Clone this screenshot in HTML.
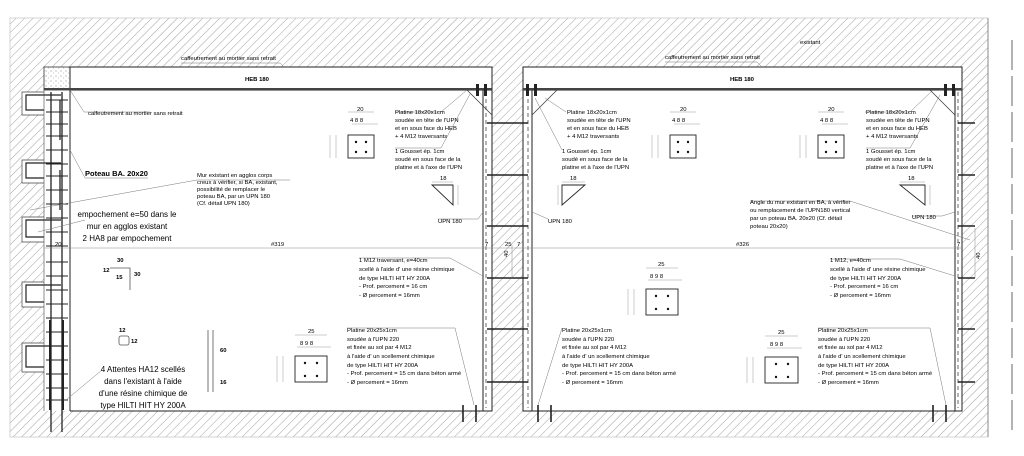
<!DOCTYPE html>
<html><head><meta charset="utf-8"><style>
html,body{margin:0;padding:0;background:#fff;}
svg{display:block;}
text{font-family:"Liberation Sans",sans-serif;fill:#000;}
.s{font-size:5.9px;}
.m{font-size:8px;}
.b{font-weight:bold;}
</style></head><body>
<svg width="1024" height="456" viewBox="0 0 1024 456" xmlns="http://www.w3.org/2000/svg">
<defs>
<pattern id="h" width="6" height="6" patternUnits="userSpaceOnUse" patternTransform="rotate(45)">
<line x1="0" y1="0" x2="0" y2="6" stroke="#8a8a8a" stroke-width="0.8"/>
</pattern>
<pattern id="c" width="5" height="5" patternUnits="userSpaceOnUse">
<circle cx="1" cy="1" r="0.5" fill="#666"/><circle cx="3.5" cy="3" r="0.4" fill="#777"/>
</pattern>
</defs>
<rect width="1024" height="456" fill="#fff"/>
<rect x="10" y="18" width="978" height="419" fill="url(#h)"/>
<rect x="10" y="18" width="978" height="419" fill="none" stroke="#bbb" stroke-width="0.6"/>
<line x1="988" y1="18" x2="988" y2="437" stroke="#777" stroke-width="0.8"/>
<line x1="1012" y1="40" x2="1012" y2="430" stroke="#555" stroke-width="0.9" stroke-dasharray="30,6"/>
<rect x="44" y="67" width="448" height="344" fill="#fff"/>
<rect x="523" y="67" width="439" height="344" fill="#fff"/>
<g fill="#fff" stroke="#444" stroke-width="0.7">
<path d="M44 92 H22 V115 H44"/><path d="M44 160 H22 V183 H44"/><path d="M44 217 H22 V242 H44"/><path d="M44 282 H22 V307 H44"/><path d="M44 343 H22 V372 H44"/>
</g>
<g fill="none" stroke="#222" stroke-width="1.2">
<path d="M61 95 H26 V110 H44"/><path d="M61 163 H26 V178 H44"/><path d="M61 220 H26 V237 H44"/><path d="M61 285 H26 V302 H44"/><path d="M61 346 H26 V367 H44"/>
</g>
<rect x="44" y="67" width="26" height="23" fill="url(#c)" stroke="#333" stroke-width="0.8"/>
<line x1="70" y1="90" x2="70" y2="411" stroke="#222" stroke-width="1"/>
<line x1="44" y1="90" x2="44" y2="411" stroke="#444" stroke-width="0.6"/>
<g stroke="#222" stroke-width="1.3">
<line x1="51" y1="92" x2="51" y2="432"/><line x1="62" y1="92" x2="62" y2="432"/>
<line x1="60" y1="100" x2="60" y2="140"/><line x1="60" y1="170" x2="60" y2="210"/>
</g>
<g stroke="#222" stroke-width="1">
<line x1="46" y1="100" x2="68" y2="100"/><line x1="46" y1="112" x2="68" y2="112"/><line x1="46" y1="124" x2="68" y2="124"/><line x1="46" y1="136" x2="68" y2="136"/><line x1="46" y1="150" x2="68" y2="150"/><line x1="46" y1="164" x2="68" y2="164"/><line x1="46" y1="176" x2="68" y2="176"/><line x1="46" y1="190" x2="68" y2="190"/><line x1="46" y1="204" x2="68" y2="204"/><line x1="46" y1="218" x2="68" y2="218"/><line x1="46" y1="232" x2="68" y2="232"/><line x1="46" y1="246" x2="68" y2="246"/><line x1="46" y1="262" x2="68" y2="262"/><line x1="46" y1="276" x2="68" y2="276"/><line x1="46" y1="290" x2="68" y2="290"/><line x1="46" y1="304" x2="68" y2="304"/><line x1="46" y1="318" x2="68" y2="318"/><line x1="46" y1="332" x2="68" y2="332"/><line x1="46" y1="346" x2="68" y2="346"/><line x1="46" y1="360" x2="68" y2="360"/><line x1="46" y1="374" x2="68" y2="374"/><line x1="46" y1="388" x2="68" y2="388"/><line x1="46" y1="400" x2="68" y2="400"/>
</g>
<line x1="50" y1="320" x2="50" y2="410" stroke="#222" stroke-width="2"/><line x1="63" y1="320" x2="63" y2="410" stroke="#222" stroke-width="2"/>
<rect x="70" y="67" width="422" height="23" fill="#fff" stroke="#222" stroke-width="1"/>
<line x1="44" y1="89" x2="492" y2="89" stroke="#444" stroke-width="2"/>
<rect x="523" y="67" width="439" height="23" fill="#fff" stroke="#222" stroke-width="1"/>
<line x1="523" y1="89" x2="962" y2="89" stroke="#444" stroke-width="2"/>
<g stroke="#222" stroke-width="1" fill="none">
<path d="M70 411 H492 V90"/><line x1="483" y1="90" x2="483" y2="411"/>
<path d="M523 90 V411 H962 V90"/><line x1="532" y1="90" x2="532" y2="411"/><line x1="955" y1="90" x2="955" y2="411"/>
</g>
<g stroke="#444" stroke-width="0.8" stroke-dasharray="4,3">
<line x1="486" y1="92" x2="486" y2="408"/><line x1="528" y1="92" x2="528" y2="408"/><line x1="958" y1="92" x2="958" y2="408"/>
</g>
<g stroke="#333" stroke-width="0.7" fill="none">
<path d="M467 90 L492 115"/><path d="M532 115 L557 90"/><path d="M930 90 L955 115"/>
</g>
<g fill="#222">
<rect x="476" y="84" width="3" height="12"/><rect x="484" y="84" width="3" height="12"/>
<rect x="526" y="84" width="3" height="12"/><rect x="534" y="84" width="3" height="12"/>
<rect x="944" y="84" width="3" height="12"/><rect x="952" y="84" width="3" height="12"/>
</g>
<g stroke="#222" stroke-width="1.6">
<line x1="487" y1="123" x2="528" y2="123"/><line x1="487" y1="175" x2="528" y2="175"/><line x1="487" y1="226" x2="528" y2="226"/><line x1="487" y1="278" x2="528" y2="278"/><line x1="487" y1="329" x2="528" y2="329"/><line x1="487" y1="382" x2="528" y2="382"/>
<line x1="958" y1="123" x2="975" y2="123"/><line x1="958" y1="175" x2="975" y2="175"/><line x1="958" y1="226" x2="975" y2="226"/><line x1="958" y1="278" x2="975" y2="278"/><line x1="958" y1="329" x2="975" y2="329"/><line x1="958" y1="382" x2="975" y2="382"/>
</g>
<g stroke="#222" stroke-width="1.6">
<line x1="463" y1="405" x2="463" y2="422"/><line x1="476" y1="405" x2="476" y2="422"/>
<line x1="538" y1="405" x2="538" y2="422"/><line x1="551" y1="405" x2="551" y2="422"/>
<line x1="933" y1="405" x2="933" y2="422"/><line x1="946" y1="405" x2="946" y2="422"/>
</g>
<g stroke="#888" stroke-width="0.5">
<line x1="44" y1="248" x2="962" y2="248"/>
<line x1="512" y1="245" x2="512" y2="278"/><line x1="975" y1="228" x2="975" y2="278"/>
</g>
<g stroke="#777" stroke-width="0.5" fill="none">
<path d="M181 63 H280 L284 67"/><path d="M665 62 H757 L762 67"/>
<path d="M70 90 L84 112 H150"/>
<path d="M70 150 L85 178 H148"/>
<path d="M30 210 L197 180 H290"/>
<path d="M38 232 L85 220"/>
<path d="M66 400 L102 370"/>
<path d="M395 112 H441 L467 90"/><path d="M395 148 H441 L470 94"/><path d="M438 219 H478 L483 212"/>
<path d="M566 112 L545 98"/><path d="M562 150 L535 98"/><path d="M548 219 L532 212"/>
<path d="M865 112 H910 L933 90"/><path d="M866 148 H910 L940 95"/><path d="M912 216 H942 L955 212"/>
<path d="M750 201 H850 L970 240"/>
<path d="M359 258 H450 L483 276"/><path d="M830 259 H900 L955 276"/>
<path d="M347 328 H455 L474 405"/><path d="M562 328 L538 405"/><path d="M818 328 H930 L946 405"/>
</g>
<g fill="#fff" stroke="#222" stroke-width="0.9">
<rect x="348" y="135" width="26" height="23"/><rect x="670" y="135" width="26" height="23"/><rect x="818" y="135" width="26" height="23"/>
<rect x="295" y="356" width="32" height="26"/><rect x="646" y="289" width="32" height="26"/><rect x="765" y="357" width="33" height="26"/>
</g>
<g fill="#111">
<circle cx="356" cy="142" r="1.2"/><circle cx="366" cy="142" r="1.2"/><circle cx="356" cy="152" r="1.2"/><circle cx="366" cy="152" r="1.2"/>
<circle cx="678" cy="142" r="1.2"/><circle cx="688" cy="142" r="1.2"/><circle cx="678" cy="152" r="1.2"/><circle cx="688" cy="152" r="1.2"/>
<circle cx="826" cy="142" r="1.2"/><circle cx="836" cy="142" r="1.2"/><circle cx="826" cy="152" r="1.2"/><circle cx="836" cy="152" r="1.2"/>
<circle cx="305" cy="363" r="1.2"/><circle cx="317" cy="363" r="1.2"/><circle cx="305" cy="376" r="1.2"/><circle cx="317" cy="376" r="1.2"/>
<circle cx="656" cy="296" r="1.2"/><circle cx="668" cy="296" r="1.2"/><circle cx="656" cy="309" r="1.2"/><circle cx="668" cy="309" r="1.2"/>
<circle cx="776" cy="364" r="1.2"/><circle cx="788" cy="364" r="1.2"/><circle cx="776" cy="377" r="1.2"/><circle cx="788" cy="377" r="1.2"/>
</g>
<g stroke="#999" stroke-width="0.5" fill="none">
<path d="M348 112 H374 M352 124 H378 M330 135 V158 M336 135 V158"/>
<path d="M670 112 H696 M674 124 H700 M652 135 V158 M658 135 V158"/>
<path d="M818 112 H844 M822 124 H848 M800 135 V158 M806 135 V158"/>
<path d="M295 335 H327 M297 347 H331 M277 356 V382 M283 356 V382"/>
<path d="M646 268 H678 M648 280 H682 M628 289 V315 M634 289 V315"/>
<path d="M765 336 H798 M767 348 H802 M747 357 V383 M753 357 V383"/>
<path d="M432 182 H453 M458 185 V205"/><path d="M562 182 H585 M558 185 V205"/><path d="M900 182 H925 M930 185 V205"/>
</g>
<g fill="none" stroke="#222" stroke-width="0.9">
<path d="M432 185 H453 V205 Z"/><path d="M562 205 V185 H585 Z"/><path d="M900 185 H925 V205 Z"/>
</g>
<g stroke="#555" stroke-width="0.8" fill="none">
<path d="M110 268 H130 V290"/><rect x="119" y="336" width="10" height="9" rx="2"/>
<line x1="208" y1="330" x2="208" y2="392"/><line x1="213" y1="330" x2="213" y2="392"/>
</g>
<text class="s" x="181" y="60">caffeutrement au mortier sans retrait</text>
<text class="s" x="665" y="59">caffeutrement au mortier sans retrait</text>
<text class="s" x="800" y="44">existant</text>
<text class="s b" x="245" y="81">HEB 180</text>
<text class="s b" x="730" y="81">HEB 180</text>
<text class="s" x="88" y="115">calfeutrement au mortier sans retrait</text>
<text x="85" y="176" style="font-size:7.5px;font-weight:bold">Poteau BA. 20x20</text>
<g class="s"><text x="197" y="177">Mur existant en agglos corps</text><text x="197" y="184">creux à  vérifier, si BA, existant,</text><text x="197" y="191">possibilité de remplacer le</text><text x="197" y="198">poteau BA, par un UPN 180</text><text x="197" y="205">(Cf. détail UPN 180)</text></g>
<g class="m" text-anchor="middle"><text x="127" y="217">empochement e=50 dans le</text><text x="127" y="229">mur en agglos existant</text><text x="127" y="241">2 HA8 par empochement</text></g>
<g class="m" text-anchor="middle"><text x="143" y="372">4 Attentes HA12 scellés</text><text x="143" y="384">dans l'existant à l'aide</text><text x="143" y="396">d'une résine chimique de</text><text x="143" y="408">type HILTI HIT HY 200A</text></g>
<g class="s"><text x="395" y="114">Platine 18x20x1cm</text><text x="395" y="122">soudée en tête de l'UPN</text><text x="395" y="130">et en sous face du HEB</text><text x="395" y="138">+ 4 M12 traversants</text>
<text x="395" y="153">1 Gousset ép. 1cm</text><text x="395" y="161">soudé en sous face de la</text><text x="395" y="169">platine et à l'axe de l'UPN</text></g>
<g class="s"><text x="567" y="114">Platine 18x20x1cm</text><text x="567" y="122">soudée en tête de l'UPN</text><text x="567" y="130">et en sous face du HEB</text><text x="567" y="138">+ 4 M12 traversants</text>
<text x="562" y="153">1 Gousset ép. 1cm</text><text x="562" y="161">soudé en sous face de la</text><text x="562" y="169">platine et à l'axe de l'UPN</text></g>
<g class="s"><text x="866" y="114">Platine 18x20x1cm</text><text x="866" y="122">soudée en tête de l'UPN</text><text x="866" y="130">et en sous face du HEB</text><text x="866" y="138">+ 4 M12 traversants</text>
<text x="866" y="153">1 Gousset ép. 1cm</text><text x="866" y="161">soudé en sous face de la</text><text x="866" y="169">platine et à l'axe de l'UPN</text></g>
<g class="s"><text x="438" y="223">UPN 180</text><text x="548" y="223">UPN 180</text><text x="912" y="219">UPN 180</text>
<text x="750" y="204">Angle du mur existant en BA, à vérifier</text><text x="750" y="212">ou remplacement de l'UPN180 vertical</text><text x="750" y="220">par un poteau BA. 20x20 (Cf. détail</text><text x="750" y="228">poteau 20x20)</text>
<text x="271" y="246">#319</text><text x="736" y="246">#326</text>
<text x="485" y="246">7</text><text x="505" y="246">25</text><text x="517" y="246">7</text><text x="957" y="246">7</text><text x="55" y="246">20</text>
<text x="508" y="257" transform="rotate(-90 508 257)">40</text><text x="980" y="259" transform="rotate(-90 980 259)">40</text>
<text x="357" y="111">20</text><text x="350" y="122">4  8  8</text><text x="680" y="111">20</text><text x="672" y="122">4  8  8</text><text x="828" y="111">20</text><text x="820" y="122">4  8  8</text>
<text x="440" y="180">18</text><text x="570" y="180">18</text><text x="908" y="180">18</text>
<text x="308" y="333">25</text><text x="300" y="345">8  9  8</text><text x="658" y="266">25</text><text x="650" y="278">8  9  8</text><text x="778" y="334">25</text><text x="770" y="346">8  9  8</text>
<text x="359" y="262">1 M12 traversant, e=40cm</text><text x="359" y="271">scellé à l'aide d' une résine chimique</text><text x="359" y="280">de type HILTI HIT HY 200A</text><text x="359" y="288">- Prof. percement = 16 cm</text><text x="359" y="297">- Ø percement = 16mm</text>
<text x="830" y="262">1 M12, e=40cm</text><text x="830" y="271">scellé à l'aide d' une résine chimique</text><text x="830" y="280">de type HILTI HIT HY 200A</text><text x="830" y="288">- Prof. percement = 16 cm</text><text x="830" y="297">- Ø percement = 16mm</text>
<text x="347" y="332">Platine 20x25x1cm</text><text x="347" y="341">soudée à l'UPN 220</text><text x="347" y="349">et fixée au sol par 4 M12</text><text x="347" y="358">à l'aide d' un scellement chimique</text><text x="347" y="367">de type HILTI HIT HY 200A</text><text x="347" y="375">- Prof. percement = 15 cm dans béton armé</text><text x="347" y="384">- Ø percement = 16mm</text>
<text x="562" y="332">Platine 20x25x1cm</text><text x="562" y="341">soudée à l'UPN 220</text><text x="562" y="349">et fixée au sol par 4 M12</text><text x="562" y="358">à l'aide d' un scellement chimique</text><text x="562" y="367">de type HILTI HIT HY 200A</text><text x="562" y="375">- Prof. percement = 15 cm dans béton armé</text><text x="562" y="384">- Ø percement = 16mm</text>
<text x="818" y="332">Platine 20x25x1cm</text><text x="818" y="341">soudée à l'UPN 220</text><text x="818" y="349">et fixée au sol par 4 M12</text><text x="818" y="358">à l'aide d' un scellement chimique</text><text x="818" y="367">de type HILTI HIT HY 200A</text><text x="818" y="375">- Prof. percement = 15 cm dans béton armé</text><text x="818" y="384">- Ø percement = 16mm</text>
</g>
<g class="s b"><text x="117" y="262">30</text><text x="103" y="272">12</text><text x="116" y="279">15</text><text x="134" y="276">30</text>
<text x="119" y="332">12</text><text x="131" y="343">12</text><text x="220" y="352">60</text><text x="220" y="384">16</text></g>
</svg>
</body></html>
